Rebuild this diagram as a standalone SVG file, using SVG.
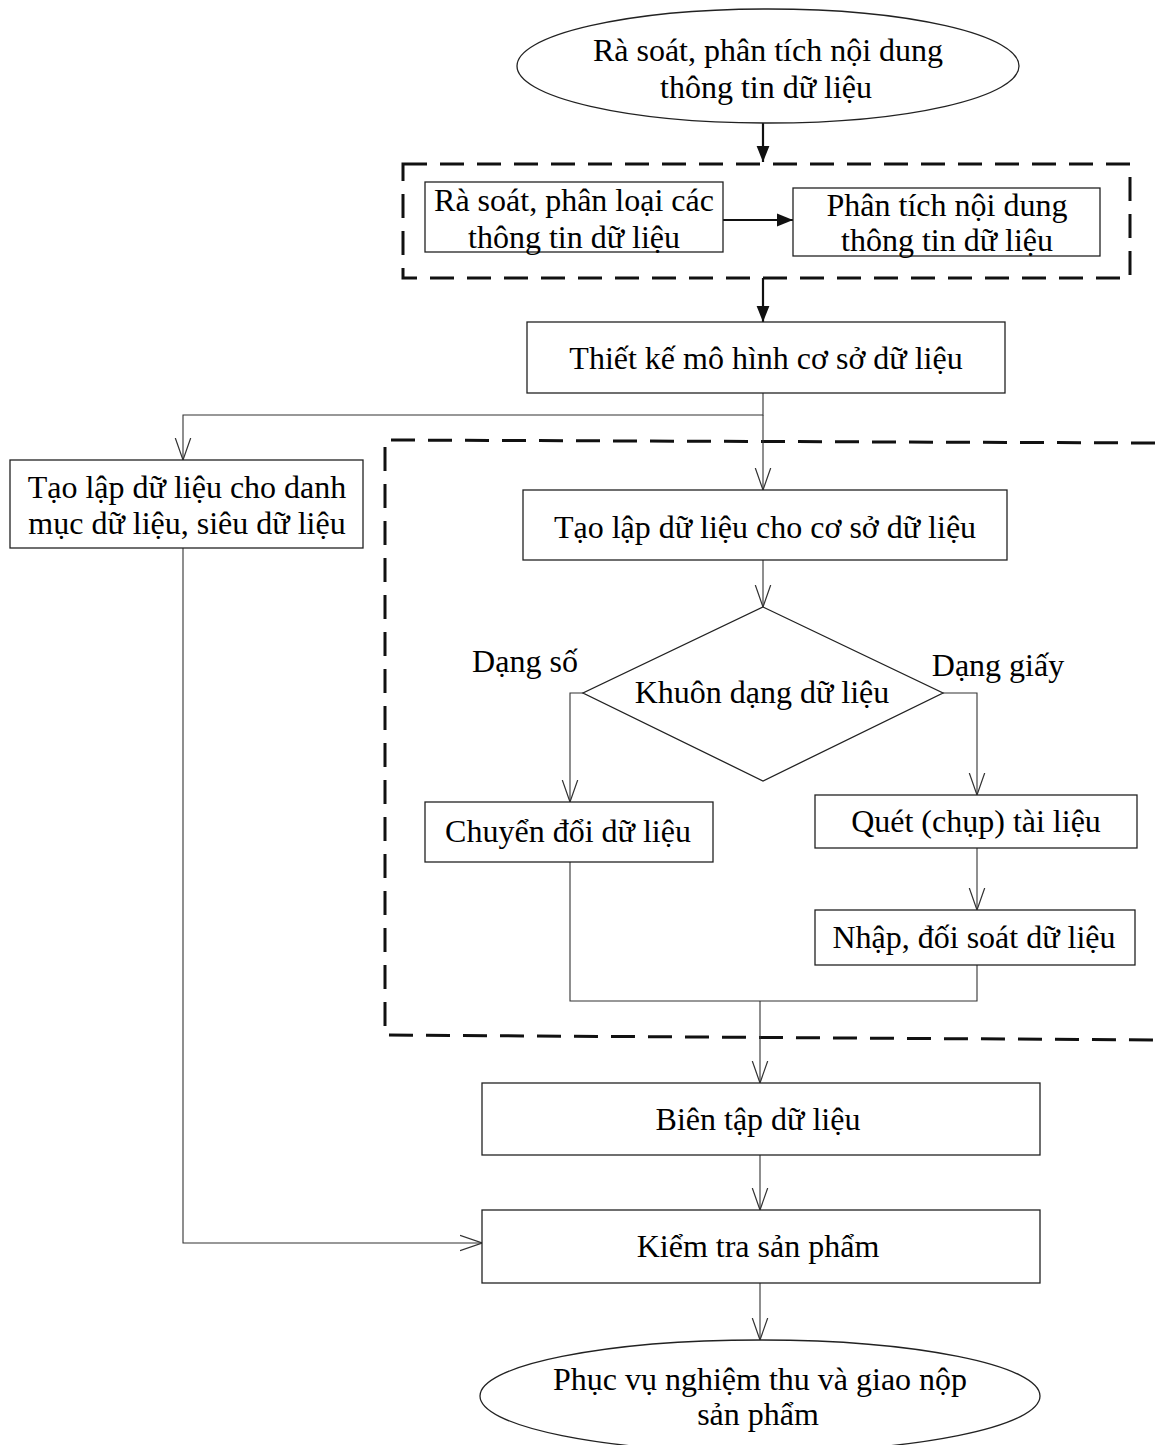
<svg xmlns="http://www.w3.org/2000/svg" width="1155" height="1445" viewBox="0 0 1155 1445">
<style>
.box{fill:#fff;stroke:#222;stroke-width:1.3}
.t{font-family:"Liberation Serif","Times New Roman",serif;font-size:32px;fill:#000;text-anchor:middle}
.dash{fill:none;stroke:#111;stroke-width:3;stroke-dasharray:24 13}
.thick{fill:none;stroke:#111;stroke-width:2.2}
.thin{fill:none;stroke:#333;stroke-width:1.1}
</style>
<defs>
<marker id="solidB" viewBox="0 0 10 10" refX="10" refY="5" markerWidth="16" markerHeight="16" markerUnits="userSpaceOnUse" orient="auto">
<path d="M0,1 L10,5 L0,9 z" fill="#111"/>
</marker>
<marker id="open" viewBox="0 0 20 20" refX="20" refY="10" markerWidth="22" markerHeight="22" markerUnits="userSpaceOnUse" orient="auto">
<path d="M0,3 L20,10 L0,17" fill="none" stroke="#333" stroke-width="1.1"/>
</marker>
</defs>

<g id="dashed-groups">
<rect class="dash" x="403" y="164" width="727" height="114"/>
<path class="dash" d="M1155,443 L385,440 L385,1035 L1155,1040"/>
</g>

<g id="connectors">
<line class="thick" x1="763" y1="122" x2="763" y2="162" marker-end="url(#solidB)"/>
<line class="thick" x1="723" y1="220" x2="793" y2="220" marker-end="url(#solidB)"/>
<line class="thick" x1="763" y1="278" x2="763" y2="322" marker-end="url(#solidB)"/>
<path class="thin" d="M763,393 L763,415 L183,415 L183,460" marker-end="url(#open)"/>
<path class="thin" d="M763,415 L763,490" marker-end="url(#open)"/>
<line class="thin" x1="763" y1="560" x2="763" y2="607" marker-end="url(#open)"/>
<path class="thin" d="M583,693 L570,693 L570,802" marker-end="url(#open)"/>
<path class="thin" d="M943,693 L977,693 L977,795" marker-end="url(#open)"/>
<line class="thin" x1="977" y1="848" x2="977" y2="910" marker-end="url(#open)"/>
<path class="thin" d="M570,862 L570,1001 L977,1001 L977,965"/>
<line class="thin" x1="760" y1="1001" x2="760" y2="1083" marker-end="url(#open)"/>
<line class="thin" x1="760" y1="1155" x2="760" y2="1210" marker-end="url(#open)"/>
<path class="thin" d="M183,548 L183,1243 L482,1243" marker-end="url(#open)"/>
<line class="thin" x1="760" y1="1283" x2="760" y2="1340" marker-end="url(#open)"/>
</g>

<g id="n-start">
<ellipse class="box" cx="768" cy="66" rx="251" ry="57"/>
<text class="t" x="768" y="61">Rà soát, phân tích nội dung</text>
<text class="t" x="766" y="98">thông tin dữ liệu</text>
</g>

<g id="n-phanloai">
<rect class="box" x="425" y="182" width="298" height="70"/>
<text class="t" x="574" y="211">Rà soát, phân loại các</text>
<text class="t" x="574" y="248">thông tin dữ liệu</text>
</g>

<g id="n-phantich">
<rect class="box" x="793" y="188" width="307" height="68"/>
<text class="t" x="947" y="216">Phân tích nội dung</text>
<text class="t" x="947" y="251">thông tin dữ liệu</text>
</g>

<g id="n-thietke">
<rect class="box" x="527" y="322" width="478" height="71"/>
<text class="t" x="766" y="369">Thiết kế mô hình cơ sở dữ liệu</text>
</g>

<g id="n-danhmuc">
<rect class="box" x="10" y="460" width="353" height="88"/>
<text class="t" x="187" y="498">Tạo lập dữ liệu cho danh</text>
<text class="t" x="187" y="534">mục dữ liệu, siêu dữ liệu</text>
</g>

<g id="n-taolap">
<rect class="box" x="523" y="490" width="484" height="70"/>
<text class="t" x="765" y="538">Tạo lập dữ liệu cho cơ sở dữ liệu</text>
</g>

<g id="n-khuondang">
<polygon class="box" points="763,607 943,693 763,781 583,693"/>
<text class="t" x="762" y="703">Khuôn dạng dữ liệu</text>
<text class="t" x="525" y="672">Dạng số</text>
<text class="t" x="998" y="676">Dạng giấy</text>
</g>

<g id="n-chuyendoi">
<rect class="box" x="425" y="802" width="288" height="60"/>
<text class="t" x="568" y="842">Chuyển đổi dữ liệu</text>
</g>

<g id="n-quet">
<rect class="box" x="815" y="795" width="322" height="53"/>
<text class="t" x="976" y="832">Quét (chụp) tài liệu</text>
</g>

<g id="n-nhap">
<rect class="box" x="815" y="910" width="320" height="55"/>
<text class="t" x="974" y="948">Nhập, đối soát dữ liệu</text>
</g>

<g id="n-bientap">
<rect class="box" x="482" y="1083" width="558" height="72"/>
<text class="t" x="758" y="1130">Biên tập dữ liệu</text>
</g>

<g id="n-kiemtra">
<rect class="box" x="482" y="1210" width="558" height="73"/>
<text class="t" x="758" y="1257">Kiểm tra sản phẩm</text>
</g>

<g id="n-end">
<ellipse class="box" cx="760" cy="1396" rx="280" ry="56"/>
<text class="t" x="760" y="1390">Phục vụ nghiệm thu và giao nộp</text>
<text class="t" x="758" y="1425">sản phẩm</text>
</g>
</svg>
